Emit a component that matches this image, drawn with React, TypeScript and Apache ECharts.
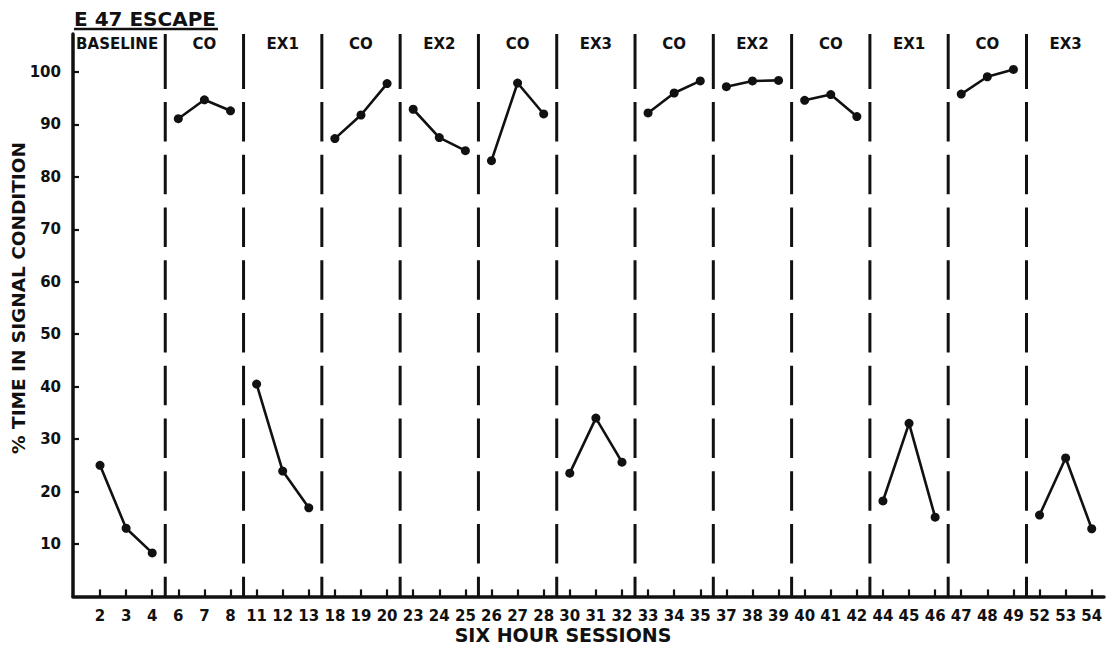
import React, { useEffect, useRef } from "react";
import * as echarts from "echarts";

// Session numbers shown under the x axis (one per plotted session)
const sessions = [2, 3, 4, 6, 7, 8, 11, 12, 13, 18, 19, 20, 23, 24, 25, 26, 27, 28, 30, 31, 32, 33, 34, 35, 37, 38, 39, 40, 41, 42, 44, 45, 46, 47, 48, 49, 52, 53, 54];
// Experimental phases, three sessions each
const phases = ["BASELINE", "CO", "EX1", "CO", "EX2", "CO", "EX3", "CO", "EX2", "CO", "EX1", "CO", "EX3"];
// % time in signal condition, per session
const pctTime = [
  25.0, 13.0, 8.3,
  91.1, 94.7, 92.6,
  40.5, 23.9, 16.9,
  87.3, 91.8, 97.8,
  92.9, 87.5, 85.0,
  83.1, 97.9, 92.0,
  23.5, 34.0, 25.6,
  92.2, 96.0, 98.3,
  97.2, 98.3, 98.4,
  94.6, 95.7, 91.5,
  18.2, 33.0, 15.1,
  95.8, 99.1, 100.5,
  15.5, 26.4, 12.9,
];
const yTicks = [10, 20, 30, 40, 50, 60, 70, 80, 90, 100];
const perPhase = 3;
const Y_MAX = 107.25;

const FONT = '"DejaVu Sans", "Noto Sans", sans-serif';
const INK = "#111";

export default function App() {
  const ref = useRef<HTMLDivElement>(null);

  useEffect(() => {
    if (!ref.current) return;
    const chart = echarts.init(ref.current, null, { renderer: "svg" });

    const xIdx = sessions.map((_, i) => i);
    const lineSeries = phases.map((_, p) => ({
      type: "line",
      data: [0, 1, 2].map((k) => [p * perPhase + k, pctTime[p * perPhase + k]]),
      symbol: "circle",
      symbolSize: 9,
      lineStyle: { color: INK, width: 2.6 },
      itemStyle: { color: INK },
      z: 5,
    }));

    const boundaries = phases.slice(1).map((_, p) => [(p + 1) * perPhase - 0.5, 0]);
    const headerData = phases.map((name, p) => [p * perPhase + 1, 0, name]);

    const option: any = {
      animation: false,
      backgroundColor: "#fff",
      grid: {
        left: 73,
        top: 34,
        width: 1031,
        height: 562.4,
        containLabel: false,
        outerBoundsMode: "none",
      },
      xAxis: {
        type: "value",
        min: -1.035,
        max: 38.47,
        splitLine: { show: false },
        axisLine: { show: true, onZero: false, lineStyle: { color: INK, width: 3.5 } },
        axisTick: {
          show: true,
          inside: true,
          length: 7,
          customValues: xIdx,
          lineStyle: { color: INK, width: 2.2 },
        },
        axisLabel: {
          show: true,
          customValues: xIdx,
          margin: 12,
          formatter: (v: number) => {
            const i = Math.round(v);
            return sessions[i] !== undefined ? String(sessions[i]) : "";
          },
          color: INK,
          fontFamily: FONT,
          fontWeight: "bold",
          fontSize: 15,
        },
      },
      yAxis: {
        type: "value",
        min: 0,
        max: Y_MAX,
        splitLine: { show: false },
        axisLine: { show: true, onZero: false, lineStyle: { color: INK, width: 3.5 } },
        axisTick: {
          show: true,
          inside: true,
          length: 6,
          customValues: yTicks,
          lineStyle: { color: INK, width: 2.2 },
        },
        axisLabel: {
          show: true,
          customValues: yTicks,
          margin: 12,
          color: INK,
          fontFamily: FONT,
          fontWeight: "bold",
          fontSize: 15,
        },
      },
      graphic: [
        {
          type: "text",
          x: 74,
          y: 19,
          style: {
            text: "E 47 ESCAPE",
            fill: INK,
            font: `bold 20px ${FONT}`,
            align: "left",
            verticalAlign: "middle",
          },
        },
        {
          type: "line",
          shape: { x1: 74, y1: 29, x2: 218, y2: 29 },
          style: { stroke: INK, lineWidth: 2.5 },
        },
        {
          type: "text",
          x: 18,
          y: 298,
          rotation: Math.PI / 2,
          style: {
            text: "% TIME IN SIGNAL CONDITION",
            fill: INK,
            font: `bold 18.5px ${FONT}`,
            align: "center",
            verticalAlign: "middle",
          },
        },
        {
          type: "text",
          x: 563,
          y: 635,
          style: {
            text: "SIX HOUR SESSIONS",
            fill: INK,
            font: `bold 19px ${FONT}`,
            align: "center",
            verticalAlign: "middle",
          },
        },
      ],
      series: [
        ...lineSeries,
        {
          type: "custom",
          data: boundaries,
          clip: false,
          silent: true,
          z: 3,
          renderItem: (params: any, api: any) => {
            const xb = api.value(0);
            const [px, y0] = api.coord([xb, 0]);
            const [, yTop] = api.coord([xb, Y_MAX]);
            return {
              type: "group",
              children: [
                {
                  type: "line",
                  shape: { x1: px, y1: yTop, x2: px, y2: yTop + 55 },
                  style: { stroke: INK, lineWidth: 3 },
                },
                {
                  type: "line",
                  shape: { x1: px, y1: yTop + 68, x2: px, y2: y0 },
                  style: { stroke: INK, lineWidth: 3, lineDash: [39.5, 13.25] },
                },
              ],
            };
          },
        },
        {
          type: "custom",
          data: headerData,
          clip: false,
          silent: true,
          z: 4,
          renderItem: (params: any, api: any) => {
            const xc = api.value(0);
            const name = headerData[params.dataIndex][2] as string;
            const [px] = api.coord([xc, 0]);
            const [, yTop] = api.coord([xc, Y_MAX]);
            const shift = params.dataIndex === 0 ? -9 : 0;
            return {
              type: "text",
              x: px + shift,
              y: yTop + 10,
              style: {
                text: name,
                fill: INK,
                font: `bold 15px ${FONT}`,
                align: "center",
                verticalAlign: "middle",
              },
            };
          },
        },
      ],
    };

    chart.setOption(option);
    return () => chart.dispose();
  }, []);

  return (
    <div
      ref={ref}
      style={{ position: "absolute", left: 0, top: 0, width: 1114, height: 648, background: "#fff" }}
    />
  );
}
